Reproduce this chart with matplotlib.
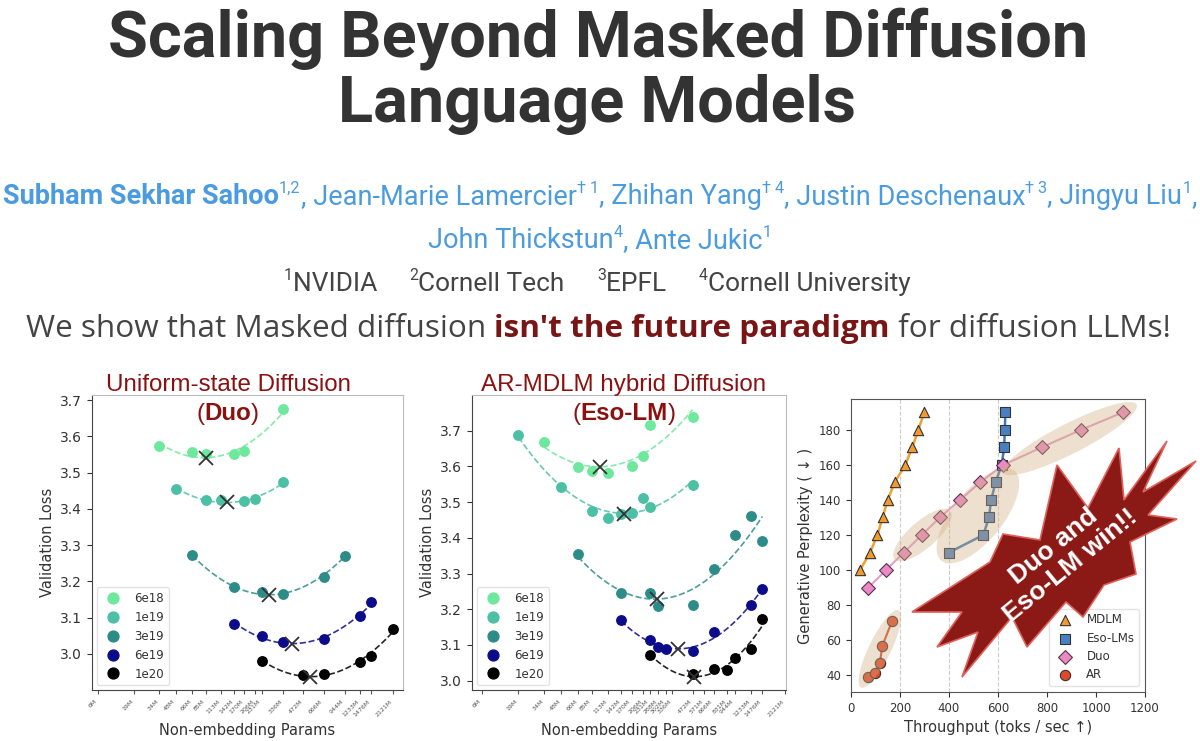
import numpy as np
import matplotlib
matplotlib.use('Agg')
import matplotlib.pyplot as plt
from matplotlib.patches import Ellipse, Polygon
from matplotlib.transforms import ScaledTranslation
from matplotlib.ticker import NullLocator

W, H, DPI = 1200, 741, 100

# ---------------- data: compute-optimal scaling (Duo) ----------------
budgets = ['6e18', '1e19', '3e19', '6e19', '1e20']
budget_colors = ['#6ee89c', '#4cc0a4', '#2e8c88', '#0c0c8a', '#000000']

duo_x = [
    [34, 66, 85, 142, 170, 336],
    [48, 85, 113, 170, 206, 336],
    [66, 142, 231, 336, 666, 944],
    [142, 231, 336, 666, 1233, 1476],
    [231, 472, 666, 1233, 1476, 2121],
]
duo_y = [
    [3.573, 3.557, 3.550, 3.552, 3.559, 3.674],
    [3.456, 3.424, 3.423, 3.421, 3.426, 3.474],
    [3.272, 3.183, 3.170, 3.165, 3.213, 3.271],
    [3.083, 3.048, 3.033, 3.041, 3.103, 3.144],
    [2.979, 2.942, 2.945, 2.977, 2.995, 3.068],
]
duo_opt_x = [85, 125, 264, 389, 528]
duo_opt_y = [3.541, 3.420, 3.163, 3.028, 2.936]
duo_ticks = [6, 19, 34, 48, 66, 85, 113, 142, 170, 206, 231, 336, 472, 666,
             944, 1233, 1476, 2121]

# ---------------- data: compute-optimal scaling (Eso-LM) ----------------
eso_x = [
    [34, 66, 85, 113, 170, 206, 231, 472],
    [19, 48, 85, 113, 142, 170, 206, 231, 472],
    [66, 142, 231, 268, 472, 666, 944, 1233, 1476],
    [142, 231, 268, 302, 472, 666, 1233, 1476],
    [231, 472, 666, 831, 944, 1233, 1476],
]
eso_y = [
    [3.669, 3.599, 3.586, 3.581, 3.601, 3.630, 3.716, 3.737],
    [3.688, 3.543, 3.476, 3.457, 3.466, 3.470, 3.511, 3.487, 3.547],
    [3.354, 3.245, 3.247, 3.210, 3.212, 3.312, 3.408, 3.461, 3.392],
    [3.169, 3.114, 3.095, 3.088, 3.084, 3.136, 3.212, 3.256],
    [3.071, 3.019, 3.033, 3.030, 3.065, 3.089, 3.172],
]
eso_opt_x = [99, 150, 260, 373, 483]
eso_opt_y = [3.599, 3.467, 3.228, 3.090, 3.011]
eso_ticks = [6, 19, 34, 48, 66, 85, 113, 142, 170, 206, 231, 268, 302, 336,
             472, 571, 666, 831, 944, 1233, 1476, 2121]

# ---------------- data: throughput vs generative perplexity ----------------
mdlm_tput = [37, 78, 108, 129, 150, 178, 222, 250, 275, 299]
mdlm_ppl = [100, 110, 120, 130, 140, 150, 160, 170, 180, 190]
esolm_tput = [400, 540, 563, 572, 590, 615, 625, 628, 630]
esolm_ppl = [110, 120, 130, 140, 150, 160, 170, 180, 190]
duo_tput = [71, 143, 216, 289, 363, 445, 527, 622, 778, 939, 1110]
duo_ppl = [90, 100, 110, 120, 130, 140, 150, 160, 170, 180, 190]
ar_tput = [71, 98, 118, 128, 167]
ar_ppl = [38.7, 41.5, 47.2, 56.7, 70.7]
guide_x = [200, 400, 600]


def fwd(x):
    return np.log10(np.maximum(np.asarray(x, float) + 10, 1e-6))


def inv(y):
    return 10 ** np.asarray(y, float) - 10


def px_axes(l, t, r, b):
    return [l / W, 1 - b / H, (r - l) / W, (b - t) / H]


def text_width(fig, r, s, **kw):
    a = fig.text(0, 0, '.' + s + '.', **kw)
    b = fig.text(0, 0, '..', **kw)
    w = a.get_window_extent(r).width - b.get_window_extent(r).width
    a.remove()
    b.remove()
    return w


def rich_line(fig, r, pieces, cx, base, size=None, width=None, family='Roboto'):
    def kw(p, s):
        return dict(fontsize=s * (0.6 if p[3] else 1.0), color=p[1],
                    fontweight=p[2], family=family)
    if size is None:
        s0 = 20
        tot = sum(text_width(fig, r, p[0], **kw(p, s0)) for p in pieces)
        size = s0 * width / tot
    ws = [text_width(fig, r, p[0], **kw(p, size)) for p in pieces]
    x = cx - sum(ws) / 2
    for p, w in zip(pieces, ws):
        y = base - (0.42 * size * DPI / 72 if p[3] else 0)
        fig.text(x / W, 1 - y / H, p[0], ha='left', va='baseline', **kw(p, size))
        x += w
    return size


def scaling_panel(ax, xs, ys, opt_x, opt_y, ticks, xlim, ylim):
    ax.set_xscale('function', functions=(fwd, inv))
    for x, y, c, lab in zip(xs, ys, budget_colors, budgets):
        fx = fwd(x)
        coef = np.polyfit(fx, y, 2)
        xx = np.linspace(fx.min(), fx.max(), 100)
        ax.plot(inv(xx), np.polyval(coef, xx), '--', color=c, lw=1.2, alpha=0.85, zorder=2)
        ax.plot(x, y, 'o', color=c, ms=6.8, ls='none', label=lab, zorder=3)
    ax.plot(opt_x, opt_y, 'x', color='#333333', ms=10, mew=1.3, ls='none', zorder=4)
    ax.set_xlim(xlim)
    ax.set_ylim(ylim)
    ax.set_xticks(ticks)
    ax.set_xticklabels([f'{t}M' for t in ticks], rotation=45, ha='right',
                       fontsize=4.5, color='#555555')
    ax.xaxis.set_minor_locator(NullLocator())
    ax.tick_params(axis='y', labelsize=10, colors='#333333')
    ax.tick_params(axis='x', length=3, color='#555555')
    ax.set_xlabel('Non-embedding Params', fontsize=10.5, color='#333333')
    ax.set_ylabel('Validation Loss', fontsize=10.5, color='#333333')
    for s in ['left', 'bottom']:
        ax.spines[s].set_color('#444444')
    for s in ['top', 'right']:
        ax.spines[s].set_color('#bbbbbb')
    leg = ax.legend(loc='lower left', fontsize=8.5, markerscale=1.15,
                    edgecolor='#dddddd', borderaxespad=0.4)
    for t in leg.get_texts():
        t.set_color('#333333')


fig = plt.figure(figsize=(W / DPI, H / DPI), dpi=DPI)
fig.patch.set_facecolor('white')
r = fig.canvas.get_renderer()

# ---------------- header ----------------
ink = '#333333'
blue = '#4b9bdf'
red = '#7a1515'
grey = '#444444'
s = rich_line(fig, r, [('Scaling Beyond Masked Diffusion', ink, 'bold', False)],
              598, 56, width=980)
rich_line(fig, r, [('Language Models', ink, 'bold', False)], 597, 122, size=s)

authors1 = [('Subham Sekhar Sahoo', blue, 'bold', False), ('1,2', blue, 'normal', True),
            (', Jean-Marie Lamercier', blue, 'normal', False), ('† 1', blue, 'normal', True),
            (', Zhihan Yang', blue, 'normal', False), ('† 4', blue, 'normal', True),
            (', Justin Deschenaux', blue, 'normal', False), ('† 3', blue, 'normal', True),
            (', Jingyu Liu', blue, 'normal', False), ('1', blue, 'normal', True),
            (',', blue, 'normal', False)]
sa = rich_line(fig, r, authors1, 600, 204, width=1190)
authors2 = [('John Thickstun', blue, 'normal', False), ('4', blue, 'normal', True),
            (', Ante Jukic', blue, 'normal', False), ('1', blue, 'normal', True)]
rich_line(fig, r, authors2, 600, 248, size=sa)
affil = [('1', grey, 'normal', True), ('NVIDIA     ', grey, 'normal', False),
         ('2', grey, 'normal', True), ('Cornell Tech     ', grey, 'normal', False),
         ('3', grey, 'normal', True), ('EPFL     ', grey, 'normal', False),
         ('4', grey, 'normal', True), ('Cornell University', grey, 'normal', False)]
rich_line(fig, r, affil, 597, 291, width=627)
tagline = [('We show that Masked diffusion ', grey, 'normal', False),
           ("isn't the future paradigm", red, 'bold', False),
           (' for diffusion LLMs!', grey, 'normal', False)]
rich_line(fig, r, tagline, 598, 337, width=1140, family='Open Sans')

# ---------------- panel titles ----------------
dark_red = '#8b1111'
ts = rich_line(fig, r, [('Uniform-state Diffusion', dark_red, 'normal', False)],
               228, 391, width=244, family='Liberation Sans')
rich_line(fig, r, [('(', dark_red, 'normal', False), ('Duo', dark_red, 'bold', False),
                   (')', dark_red, 'normal', False)], 228, 420, size=ts,
          family='Liberation Sans')
rich_line(fig, r, [('AR-MDLM hybrid Diffusion', dark_red, 'normal', False)],
          624, 391, size=ts, family='Liberation Sans')
rich_line(fig, r, [('(', dark_red, 'normal', False), ('Eso-LM', dark_red, 'bold', False),
                   (')', dark_red, 'normal', False)], 624, 420, size=ts,
          family='Liberation Sans')

# ---------------- scaling panels ----------------
ax1 = fig.add_axes(px_axes(92, 395, 403, 690))
scaling_panel(ax1, duo_x, duo_y, duo_opt_x, duo_opt_y, duo_ticks,
              (4.4, 2508), (2.90, 3.714))
ax1.set_yticks([3.0, 3.1, 3.2, 3.3, 3.4, 3.5, 3.6, 3.7])

ax2 = fig.add_axes(px_axes(472, 395, 786, 690))
scaling_panel(ax2, eso_x, eso_y, eso_opt_x, eso_opt_y, eso_ticks,
              (3.7, 2168), (2.974, 3.80))
ax2.set_yticks([3.0, 3.1, 3.2, 3.3, 3.4, 3.5, 3.6, 3.7])

# ---------------- throughput panel ----------------
ax3 = fig.add_axes(px_axes(851, 399, 1145, 692))
for gx in guide_x:
    ax3.axvline(gx, color='#cccccc', ls='--', lw=0.8, zorder=1)
ax3.plot(mdlm_tput, mdlm_ppl, color='#f0a030', lw=1.8, zorder=2)
ax3.plot(esolm_tput, esolm_ppl, color='#3d78b8', lw=1.8, zorder=2)
ax3.plot(duo_tput, duo_ppl, color='#e4a0c4', lw=1.5, zorder=2)
ax3.plot(ar_tput, ar_ppl, color='#d04a2a', lw=1.5, zorder=2)
ax3.scatter(mdlm_tput, mdlm_ppl, marker='^', s=55, c='#f39a2e', edgecolors='#333333',
            linewidths=0.8, zorder=3, label='MDLM')
ax3.scatter(esolm_tput, esolm_ppl, marker='s', s=55, c='#4a80c0', edgecolors='#333333',
            linewidths=0.8, zorder=3, label='Eso-LMs')
ax3.scatter(duo_tput, duo_ppl, marker='D', s=50, c='#e98ac4', edgecolors='#5a3050',
            linewidths=0.8, zorder=3, label='Duo')
ax3.scatter(ar_tput, ar_ppl, marker='o', s=55, c='#e0482a', edgecolors='#333333',
            linewidths=0.8, zorder=3, label='AR')

# highlighted regions: (x, y, length in, width in, angle)
highlights = [(118, 55, 0.86, 0.22, 64), (292, 120, 0.74, 0.27, 41),
              (518, 131, 1.16, 0.50, 51), (893, 175, 1.50, 0.30, 27)]
for hx, hy, hl, hw, ang in highlights:
    tr = fig.dpi_scale_trans + ScaledTranslation(hx, hy, ax3.transData)
    ax3.add_patch(Ellipse((0, 0), hl, hw, angle=ang, transform=tr,
                          facecolor='#d2ae82', alpha=0.38, lw=0, zorder=4))

ax3.set_xlim(0, 1200)
ax3.set_ylim(30.4, 197.6)
ax3.set_xticks([0, 200, 400, 600, 800, 1000, 1200])
ax3.set_yticks([40, 60, 80, 100, 120, 140, 160, 180])
ax3.tick_params(labelsize=8.5, colors='#333333')
ax3.set_xlabel('Throughput (toks / sec ↑)', fontsize=10.5, color='#333333')
ax3.set_ylabel('Generative Perplexity ( ↓ )', fontsize=10.5, color='#333333')
for sp in ax3.spines.values():
    sp.set_color('#555555')
leg3 = ax3.legend(loc='lower right', fontsize=8.5, scatterpoints=1, edgecolor='#dddddd',
                  labelspacing=0.45)
for t in leg3.get_texts():
    t.set_color('#333333')

# ---------------- "win" burst ----------------
burst = [(912, 612), (990, 562), (1003, 534), (1040, 540), (1057, 465), (1088, 508),
         (1119, 448), (1124, 500), (1167, 441), (1143, 492), (1196, 461), (1148, 515),
         (1177, 519), (1130, 542), (1136, 574), (1104, 585), (1083, 617), (1066, 602),
         (1027, 647), (1012, 617), (962, 677), (978, 632), (937, 647), (962, 612)]
poly = Polygon([(x / W, 1 - y / H) for x, y in burst], closed=True,
               transform=fig.transFigure, facecolor='#8b1a16', edgecolor='#e0605a',
               lw=1.2, zorder=5)
fig.add_artist(poly)
fig.text(1062 / W, 1 - 556 / H, 'Duo and\nEso-LM win!!', rotation=39, ha='center',
         va='center', multialignment='center', color='white', fontsize=19,
         fontweight='bold', family='Liberation Sans', zorder=6, rotation_mode='anchor',
         linespacing=1.1)

fig.savefig('out.png', dpi=DPI)
